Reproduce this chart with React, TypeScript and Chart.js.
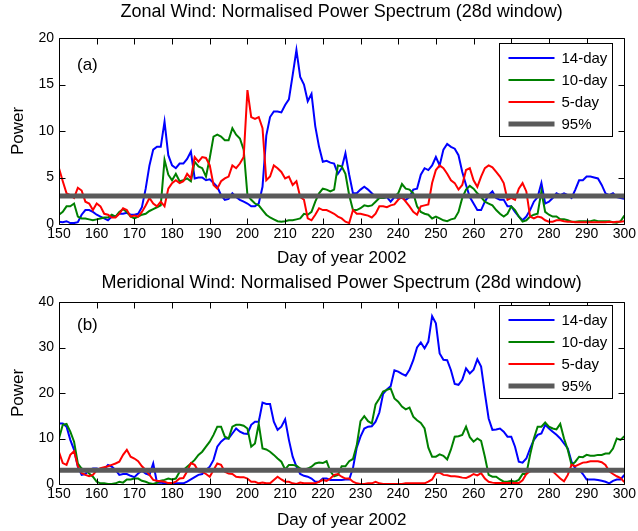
import { useEffect, useRef } from "react";
import { Chart, registerables } from "chart.js";

Chart.register(...registerables);

const FONT = "'Liberation Sans', Arial, Helvetica, sans-serif";

const startDay = 150;
const endDay = 300;
const days: number[] = [];
for (let d = startDay; d <= endDay; d++) days.push(d);

const xTickValues = [150, 160, 170, 180, 190, 200, 210, 220, 230, 240, 250, 260, 270, 280, 290, 300];
const zonalYTicks = [0, 5, 10, 15, 20];
const meridYTicks = [0, 10, 20, 30, 40];
const seriesLabels = ["14-day", "10-day", "5-day", "95%"];
const seriesColors = ["#0000ff", "#008000", "#ff0000", "#5a5a5a"];
const level95 = 3;

// Zonal wind (a)
const zonal14 = [
  0.25, 0.2, 0.3, 0.1, 0.1, 0.2, 1.0, 1.5, 1.5, 1.3,
  1.0, 0.8, 0.6, 0.4, 0.8, 0.8, 1.1, 1.1, 1.2, 1.0,
  1.0, 1.1, 1.8, 3.8, 6.3, 8.0, 8.3, 8.3, 11.0, 7.4,
  6.3, 6.0, 6.5, 6.5, 7.0, 7.8, 4.9, 5.0, 5.0, 4.7,
  4.8, 4.4, 4.0, 3.1, 2.6, 2.7, 3.3, 2.9, 2.6, 2.4,
  2.2, 1.9, 1.9, 2.2, 4.0, 9.5, 11.5, 12.1, 12.1, 12.0,
  12.8, 13.4, 16.0, 18.7, 15.8, 15.0, 13.2, 14.0, 10.5, 8.3,
  6.7, 6.8, 6.6, 6.5, 5.4, 6.0, 7.6, 5.3, 3.3, 3.3,
  3.7, 4.0, 3.7, 3.3, 2.9, 2.8, 2.8, 2.9, 2.4, 2.9,
  2.8, 2.8, 2.6, 2.9, 3.7, 3.8, 5.3, 6.0, 5.8, 6.3,
  7.2, 6.3, 8.0, 8.6, 8.3, 8.1, 7.4, 5.6, 4.2, 2.9,
  2.2, 1.5, 1.5, 2.4, 3.1, 3.5, 2.8, 2.6, 2.6, 1.9,
  1.9, 1.3, 0.8, 0.4, 0.8, 1.5, 2.4, 2.9, 4.4, 2.2,
  2.4, 2.8, 3.3, 3.1, 3.3, 3.1, 2.8, 3.7, 4.7, 4.7,
  5.1, 5.1, 5.0, 4.9, 4.2, 3.3, 3.1, 3.3, 2.9, 2.8, 2.7,
];
const zonal10 = [
  1.0, 1.3, 1.9, 1.9, 2.2, 0.8, 0.6, 0.6, 0.5, 0.4,
  0.5, 0.6, 0.7, 0.7, 1.0, 0.8, 1.3, 1.6, 1.3, 0.8,
  0.6, 0.8, 1.0, 1.1, 1.4, 1.6, 1.8, 2.0, 6.9, 5.3,
  4.7, 5.4, 4.6, 4.7, 4.9, 4.6, 6.7, 6.2, 6.0, 5.1,
  7.1, 9.4, 9.6, 9.4, 9.0, 9.0, 10.3, 9.6, 9.2, 8.0,
  3.1, 2.6, 2.2, 2.0, 1.5, 1.0, 0.7, 0.5, 0.3, 0.25,
  0.3, 0.4, 0.4, 0.5, 0.6, 1.1, 1.0, 1.3, 2.4, 3.3,
  3.8, 3.7, 3.5, 3.7, 6.3, 6.2, 5.4, 3.1, 1.5, 1.5,
  1.7, 2.0, 1.9, 2.0, 2.4, 2.8, 2.8, 2.9, 2.9, 2.9,
  3.3, 4.3, 3.8, 3.7, 3.3, 1.9, 1.3, 1.1, 1.0, 0.6,
  0.8, 0.6, 0.4, 0.3, 0.5, 0.6, 1.3, 2.8, 3.7, 4.1,
  3.8, 3.3, 2.9, 2.4, 2.2, 2.0, 1.5, 1.1, 0.8, 1.1,
  1.9, 1.5, 0.8, 0.25, 0.4, 0.8, 1.0, 1.1, 3.5, 1.3,
  1.0, 0.8, 0.8, 0.5, 0.5, 0.4, 0.25, 0.25, 0.3, 0.3,
  0.3, 0.3, 0.4, 0.3, 0.3, 0.3, 0.3, 0.2, 0.15, 0.3, 0.9,
];
const zonal5 = [
  6.0, 4.6, 3.3, 3.1, 2.8, 3.9, 3.6, 2.4, 2.2, 1.5,
  2.2, 1.9, 1.1, 1.0, 0.7, 0.7, 1.1, 1.7, 1.5, 0.8,
  0.9, 0.8, 1.3, 2.0, 2.8, 2.2, 1.9, 2.4, 1.9, 3.8,
  4.4, 4.7, 4.4, 4.6, 5.4, 4.9, 7.2, 6.7, 7.2, 7.1,
  6.3, 4.2, 3.8, 4.6, 4.9, 5.1, 6.3, 6.0, 6.5, 7.2,
  14.4, 11.5, 11.3, 11.5, 10.3, 4.7, 5.1, 6.3, 6.0, 5.6,
  4.9, 5.1, 4.2, 4.6, 2.9, 2.6, 0.6, 0.4, 1.0, 1.7,
  1.5, 1.5, 1.3, 1.1, 0.8, 0.6, 0.25, 0.1, 1.5, 1.1,
  1.1, 1.0, 0.9, 0.7, 1.1, 1.9, 1.9, 1.8, 2.0, 2.1,
  2.6, 2.9, 2.4, 1.9, 1.3, 1.0, 1.9, 2.0, 2.1, 4.4,
  5.8, 6.3, 6.0, 5.4, 4.7, 4.4, 3.7, 4.2, 5.8, 6.0,
  4.7, 4.0, 5.1, 6.0, 6.3, 6.1, 5.6, 5.1, 4.4, 2.6,
  2.8, 2.6, 3.8, 4.4, 3.5, 0.8, 0.6, 0.8, 0.7, 0.4,
  0.25, 0.25, 0.4, 0.4, 0.3, 0.25, 0.25, 0.2, 0.2, 0.2,
  0.2, 0.2, 0.2, 0.2, 0.2, 0.2, 0.25, 0.2, 0.25, 0.25, 0.3,
];

// Meridional wind (b)
const merid14 = [
  13.3, 13.3, 12.6, 9.7, 7.5, 3.8, 2.0, 2.2, 3.1, 3.4,
  3.4, 3.2, 3.2, 4.2, 3.8, 3.1, 2.0, 2.2, 2.2, 1.8,
  1.5, 2.3, 2.9, 2.3, 2.0, 4.5, 0.3, 0.3, 0.15, 0.15,
  0.0, 0.15, 0.15, 0.15, 0.5, 1.0, 1.5, 2.0, 2.2, 3.1,
  3.8, 5.3, 8.2, 9.3, 10.0, 10.0, 11.1, 12.2, 11.5, 11.1,
  11.0, 13.0, 13.7, 13.7, 17.9, 17.6, 17.6, 13.7, 11.9, 12.6,
  14.2, 9.7, 6.0, 3.8, 2.2, 1.8, 1.6, 1.2, 0.5, 0.5,
  1.2, 1.2, 0.9, 0.9, 0.9, 0.9, 1.0, 1.0, 3.5, 8.0,
  10.4, 12.2, 12.6, 12.7, 13.7, 15.7, 19.8, 20.8, 21.5, 25.0,
  24.7, 24.2, 23.8, 25.1, 27.2, 30.0, 31.1, 29.8, 31.3, 36.9,
  35.3, 28.7, 27.3, 27.2, 25.0, 22.0, 21.8, 22.9, 25.4, 24.3,
  25.1, 27.4, 25.8, 19.9, 14.4, 11.9, 12.0, 12.2, 11.5, 10.4,
  10.4, 8.2, 4.9, 4.7, 5.6, 7.8, 9.7, 10.8, 11.1, 13.0,
  12.2, 11.5, 10.8, 10.0, 8.9, 7.8, 4.9, 3.4, 3.2, 2.2,
  1.0, 1.0, 1.0, 0.9, 0.7, 0.5, 0.15, 0.7, 1.0, 1.0, 2.0,
];
const merid10 = [
  10.0, 13.0, 13.2, 11.5, 9.3, 4.5, 3.4, 3.1, 2.3, 1.6,
  0.5, 0.15, 0.15, 0.0, 0.0, 0.15, 0.5, 0.3, 1.0, 1.0,
  1.2, 1.2, 0.7, 0.5, 0.15, 0.0, 0.3, 0.7, 0.9, 1.2,
  1.0, 1.2, 2.7, 3.1, 3.8, 4.5, 5.3, 6.4, 7.1, 8.2,
  9.3, 10.8, 12.6, 12.6, 10.4, 10.0, 12.6, 13.0, 13.0, 12.8,
  12.2, 8.2, 8.9, 13.2, 7.8, 7.6, 7.1, 6.4, 5.6, 4.9,
  3.2, 4.2, 4.2, 4.0, 3.4, 3.1, 3.4, 3.8, 4.5, 4.7,
  4.6, 5.0, 2.8, 1.7, 2.0, 3.9, 3.9, 5.0, 5.5, 8.5,
  13.8, 14.9, 13.8, 13.3, 17.5, 18.8, 20.3, 20.7, 21.0, 18.8,
  18.1, 17.0, 16.4, 16.8, 14.8, 14.0, 13.4, 12.2, 8.0, 6.0,
  6.0, 6.5, 6.2, 5.4, 7.6, 10.4, 10.5, 10.8, 12.6, 10.3,
  9.3, 10.0, 9.5, 6.0, 2.0, 1.6, 1.6, 1.0, 0.5, 0.5,
  0.7, 0.5, 0.9, 2.2, 2.2, 6.4, 10.0, 12.6, 12.6, 13.5,
  12.6, 12.2, 12.0, 13.2, 10.0, 7.5, 4.2, 4.9, 6.0, 5.9,
  6.4, 6.2, 6.2, 6.4, 6.4, 6.7, 6.7, 7.8, 10.0, 9.7, 10.5,
];
const merid5 = [
  7.0, 4.6, 4.2, 6.4, 7.2, 3.9, 2.4, 2.0, 1.7, 2.0,
  3.0, 3.5, 3.7, 3.9, 4.2, 4.5, 4.9, 6.4, 7.5, 6.0,
  5.6, 5.0, 3.9, 3.1, 2.0, 0.9, 0.7, 0.6, 0.5, 0.2,
  0.2, 0.5, 1.2, 1.3, 2.8, 4.6, 4.2, 2.8, 2.7, 2.2,
  1.6, 3.1, 4.5, 4.2, 2.7, 2.3, 2.2, 1.6, 1.5, 1.5,
  1.2, 0.5, 0.5, 0.15, 0.3, 0.15, 0.15, 0.9, 1.6, 1.0,
  0.5, 0.5, 0.15, 0.0, 0.3, 0.15, 0.15, 0.15, 0.15, 0.5,
  0.9, 0.7, 1.2, 2.0, 2.2, 1.6, 1.2, 1.2, 0.5, 0.15,
  0.0, 0.0, 0.15, 0.15, 0.5, 0.15, 0.0, 0.0, 0.0, 0.0,
  0.0, 0.0, 0.15, 0.15, 0.15, 0.15, 0.15, 0.15, 0.5, 1.0,
  2.4, 2.5, 2.0, 1.9, 1.7, 1.7, 1.6, 1.4, 1.3, 1.7,
  2.2, 1.9, 2.4, 1.2, 0.5, 0.3, 0.2, 0.2, 0.2, 0.2,
  0.2, 0.2, 0.2, 0.8, 2.2, 2.8, 3.0, 3.1, 3.1, 3.1,
  3.1, 2.8, 2.0, 1.2, 0.6, 2.0, 4.2, 3.9, 4.3, 4.7,
  4.8, 5.0, 5.0, 5.0, 4.8, 4.2, 2.8, 2.2, 1.7, 1.3, 0.4,
];

type PanelOpts = {
  title: string;
  panelLabel: string;
  series: number[][];
  yMax: number;
  yTicks: number[];
  width: number;
  height: number;
  plotTop: number;
  titleY: number;
  xAxisHeight: number;
  legendTop: number;
  labelOffset: number;
};

const decorPlugin = {
  id: "decor",
  afterDatasetsDraw(chart: any, _args: any, opts: any) {
    const ctx: CanvasRenderingContext2D = chart.ctx;
    const { left, right, top, bottom } = chart.chartArea;
    const xs = chart.scales.x;
    const ys = chart.scales.y;
    const L = Math.round(left) + 0.5;
    const R = Math.round(right) + 0.5;
    const T = Math.round(top) + 0.5;
    const B = Math.round(bottom) + 0.5;
    const tl = 6;
    ctx.save();
    ctx.strokeStyle = "#000";
    ctx.lineWidth = 1;
    ctx.beginPath();
    ctx.rect(L, T, R - L, B - T);
    for (const v of xTickValues) {
      const px = Math.round(xs.getPixelForValue(v)) + 0.5;
      ctx.moveTo(px, B);
      ctx.lineTo(px, B - tl);
      ctx.moveTo(px, T);
      ctx.lineTo(px, T + tl);
    }
    for (const v of opts.yTicks) {
      const py = Math.round(ys.getPixelForValue(v)) + 0.5;
      ctx.moveTo(L, py);
      ctx.lineTo(L + tl, py);
      ctx.moveTo(R, py);
      ctx.lineTo(R - tl, py);
    }
    ctx.stroke();

    // title centred over the plot
    ctx.fillStyle = "#000";
    ctx.font = `18px ${FONT}`;
    ctx.textAlign = "center";
    ctx.textBaseline = "middle";
    ctx.fillText(opts.title, (left + right) / 2, opts.titleY);

    // panel label
    ctx.font = `17px ${FONT}`;
    ctx.textAlign = "left";
    ctx.fillText(opts.panelLabel, left + 18, top + opts.labelOffset);

    // legend
    const bx = 499.5;
    const by = Math.round(top + opts.legendTop) + 0.5;
    const bw = 113;
    const bh = 93;
    ctx.fillStyle = "#fff";
    ctx.fillRect(bx, by, bw, bh);
    ctx.strokeStyle = "#000";
    ctx.lineWidth = 1;
    ctx.strokeRect(bx, by, bw, bh);
    ctx.font = `15px ${FONT}`;
    for (let i = 0; i < seriesLabels.length; i++) {
      const ry = by + 14.5 + i * 22;
      ctx.strokeStyle = seriesColors[i];
      ctx.lineWidth = i === 3 ? 5 : 2;
      ctx.beginPath();
      ctx.moveTo(bx + 9, ry);
      ctx.lineTo(bx + 55, ry);
      ctx.stroke();
      ctx.fillStyle = "#000";
      ctx.fillText(seriesLabels[i], bx + 62, ry + 1);
    }
    ctx.restore();
  },
};

function buildConfig(p: PanelOpts): any {
  const datasets: any[] = p.series.map((arr, i) => ({
    label: seriesLabels[i],
    data: days.map((d, j) => ({ x: d, y: arr[j] })),
    borderColor: seriesColors[i],
    borderWidth: 2,
    pointRadius: 0,
    tension: 0,
    fill: false,
    order: 4 - i,
  }));
  datasets.push({
    label: seriesLabels[3],
    data: [
      { x: startDay, y: level95 },
      { x: endDay, y: level95 },
    ],
    borderColor: seriesColors[3],
    borderWidth: 5,
    pointRadius: 0,
    fill: false,
    order: 0,
  });
  return {
    type: "line",
    data: { datasets },
    plugins: [decorPlugin],
    options: {
      animation: false,
      responsive: false,
      maintainAspectRatio: false,
      events: [],
      layout: { padding: { left: 0, right: 13, top: p.plotTop, bottom: 0 } },
      plugins: {
        legend: { display: false },
        tooltip: { enabled: false },
        title: { display: false },
        decor: {
          yTicks: p.yTicks,
          panelLabel: p.panelLabel,
          legendTop: p.legendTop,
          labelOffset: p.labelOffset,
          title: p.title,
          titleY: p.titleY,
        },
      },
      scales: {
        x: {
          type: "linear",
          min: startDay,
          max: endDay,
          afterBuildTicks: (s: any) => {
            s.ticks = xTickValues.map((v) => ({ value: v }));
          },
          ticks: {
            color: "#000",
            font: { family: FONT, size: 14 },
            padding: 2,
            maxRotation: 0,
            autoSkip: false,
          },
          grid: { display: false, drawTicks: false },
          border: { display: false },
          title: {
            display: true,
            text: "Day of year 2002",
            color: "#000",
            font: { family: FONT, size: 17 },
            padding: { top: 0, bottom: 0 },
          },
          afterFit: (s: any) => {
            s.height = p.xAxisHeight;
          },
        },
        y: {
          type: "linear",
          min: 0,
          max: p.yMax,
          afterBuildTicks: (s: any) => {
            s.ticks = p.yTicks.map((v) => ({ value: v }));
          },
          ticks: {
            color: "#000",
            font: { family: FONT, size: 14 },
            padding: 5,
            autoSkip: false,
          },
          grid: { display: false, drawTicks: false },
          border: { display: false },
          title: {
            display: true,
            text: "Power",
            color: "#000",
            font: { family: FONT, size: 17 },
            padding: { top: 8, bottom: 0 },
          },
          afterFit: (s: any) => {
            s.width = 59;
          },
        },
      },
    },
  };
}

function Panel({ p, top }: { p: PanelOpts; top: number }) {
  const ref = useRef<HTMLCanvasElement | null>(null);
  useEffect(() => {
    if (!ref.current) return;
    const chart = new Chart(ref.current, buildConfig(p));
    return () => chart.destroy();
  }, []);
  return (
    <canvas
      ref={ref}
      width={p.width}
      height={p.height}
      style={{ position: "absolute", left: 0, top, width: p.width, height: p.height }}
    />
  );
}

const panelA: PanelOpts = {
  title: "Zonal Wind: Normalised Power Spectrum (28d window)",
  panelLabel: "(a)",
  series: [zonal14, zonal10, zonal5],
  yMax: 20,
  yTicks: zonalYTicks,
  width: 638,
  height: 269,
  plotTop: 38,
  titleY: 12,
  xAxisHeight: 45,
  legendTop: 5,
  labelOffset: 27,
};

const panelB: PanelOpts = {
  title: "Meridional Wind: Normalised Power Spectrum (28d window)",
  panelLabel: "(b)",
  series: [merid14, merid10, merid5],
  yMax: 40,
  yTicks: meridYTicks,
  width: 638,
  height: 265,
  plotTop: 36,
  titleY: 17,
  xAxisHeight: 47,
  legendTop: 3,
  labelOffset: 23,
};

export default function App() {
  return (
    <div style={{ position: "fixed", left: 0, top: 0, width: 638, height: 531, background: "#fff", overflow: "hidden" }}>
      <Panel p={panelA} top={0} />
      <Panel p={panelB} top={266} />
    </div>
  );
}
